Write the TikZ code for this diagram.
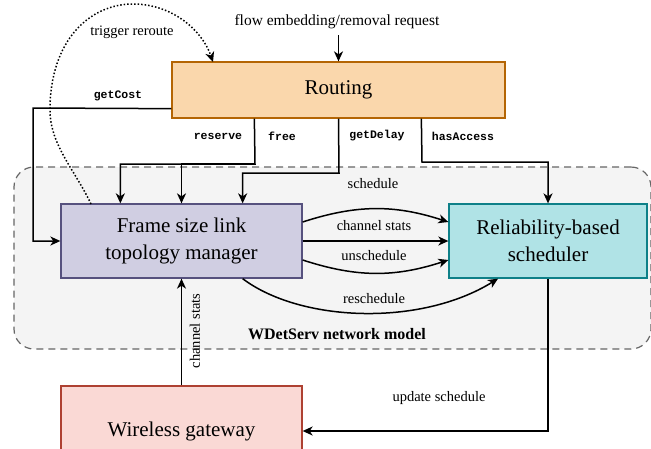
\documentclass[tikz,border=0pt]{standalone}
\usepackage{fontspec}
\setmainfont{Liberation Serif}
\setmonofont{Liberation Mono}
\usetikzlibrary{arrows.meta}

\definecolor{routefill}{HTML}{FAD7AC}
\definecolor{routeline}{HTML}{B46504}
\definecolor{framefill}{HTML}{D0CEE2}
\definecolor{frameline}{HTML}{56517E}
\definecolor{relfill}{HTML}{B0E3E6}
\definecolor{relline}{HTML}{0E8088}
\definecolor{gwfill}{HTML}{FAD9D5}
\definecolor{gwline}{HTML}{AE4132}
\definecolor{modelfill}{HTML}{F4F4F4}
\definecolor{modelline}{HTML}{666666}

\tikzset{
  block/.style={draw, line width=1.3pt, inner sep=0pt, align=center,
    font=\fontsize{21}{27}\selectfont},
  modelbox/.style={draw=modelline, fill=modelfill, line width=1.2pt,
    dash pattern=on 7pt off 5pt, rounded corners=20pt, inner sep=0pt},
  conn/.style={line width=1.5pt, -{Stealth[length=10pt, width=9pt, inset=3pt]}},
  lbl/.style={font=\fontsize{14.5}{16}\selectfont, inner sep=0pt},
  code/.style={font=\fontsize{11.5}{13}\selectfont\ttfamily\bfseries, inner sep=0pt},
}

\begin{document}
\begin{tikzpicture}[x=1pt, y=-1pt]
\useasboundingbox[fill=white] (0,0) rectangle (651,448);

% network model container
\node[modelbox, minimum width=637pt, minimum height=182pt] (model) at (332.5,258) {};
\node[font=\fontsize{16}{18}\selectfont\bfseries, inner sep=0pt] (modellbl) at (337,334) {WDetServ network model};

% blocks
\node[block, fill=routefill, draw=routeline, minimum width=333pt, minimum height=56pt]
  (routing) at (338.5,90) {Routing};
\node[block, fill=framefill, draw=frameline, minimum width=241pt, minimum height=74pt]
  (frame) at (181.5,241) {Frame size link\\topology manager};
\node[block, fill=relfill, draw=relline, minimum width=198pt, minimum height=74pt]
  (rel) at (548,241) {Reliability-based\\scheduler};
\node[block, fill=gwfill, draw=gwline, minimum width=241pt, minimum height=90pt]
  (gw) at (181.5,431) {Wireless gateway};

% incoming request
\node[font=\fontsize{15.5}{17}\selectfont, inner sep=0pt] (lflow) at (337,22) {flow embedding/removal request};
\coordinate (flowin) at (routing.north |- 0,35);
\draw[conn] (flowin) -- (routing.north);

% trigger reroute (dotted feedback)
\coordinate (trigfrom) at (91,204);
\coordinate (trigto) at (213,62);
\draw[conn, dotted] (trigfrom) .. controls (75,170) and (50,145) .. (50,110)
  .. controls (50,40) and (90,4) .. (133,4)
  .. controls (172,4) and (202,30) .. (trigto);
\node[lbl] (ltrig) at (132,32) {trigger reroute};

% getCost
\coordinate (gcfrom) at ([yshift=10pt]routing.south west);
\draw[conn] (gcfrom) -- (33,108) |- (frame.west);
\node[code] (lgc) at (118,96) {getCost};

% reserve / free
\coordinate (rffrom) at ([xshift=83pt]routing.south west);
\coordinate (rfsplit) at (255,164);
\coordinate (resto) at ([xshift=60pt]frame.north west);
\draw[conn] (rffrom) -- (rfsplit) -| (resto);
\draw[conn] (rfsplit) -| (frame.north);
\node[code] (lres) at (218,136) {reserve};
\node[code] (lfree) at (282,136) {free};

% getDelay
\coordinate (gdto) at ([xshift=-60pt]frame.north east);
\draw[conn] (routing.south) -- (339,173) -| (gdto);
\node[code] (lgd) at (377,136) {getDelay};

% hasAccess / schedule
\coordinate (hafrom) at ([xshift=250pt]routing.south west);
\draw[conn] (hafrom) -- (422,162) -| (rel.north);
\node[code] (lha) at (463,136) {hasAccess};
\node[lbl] (lsched) at (373,184) {schedule};

% frame manager -> scheduler
\coordinate (f1) at ([yshift=19pt]frame.east);
\coordinate (r1) at ([yshift=19pt]rel.west);
\coordinate (f3) at ([yshift=-19pt]frame.east);
\coordinate (r3) at ([yshift=-19pt]rel.west);
\draw[conn] (f1) to[bend left=18] (r1);
\draw[conn] (frame.east) -- (rel.west);
\draw[conn] (f3) to[bend right=18] (r3);
\node[lbl] (lcs) at (374,226) {channel stats};
\node[lbl] (lunsched) at (374,256) {unschedule};

% reschedule
\coordinate (rsfrom) at ([xshift=-60pt]frame.south east);
\coordinate (rsto) at ([xshift=-50pt]rel.south);
\draw[conn] (rsfrom) .. controls (300,322) and (420,327) .. (rsto);
\node[lbl] (lresched) at (374,299) {reschedule};

% gateway <-> model
\draw[conn] (gw.north) -- (frame.south);
\node[lbl, rotate=90] (lcsv) at (195,331) {channel stats};
\draw[conn] (rel.south) |- (gw.east);
\node[lbl] (lupd) at (439,398) {update schedule};
\end{tikzpicture}
\end{document}
